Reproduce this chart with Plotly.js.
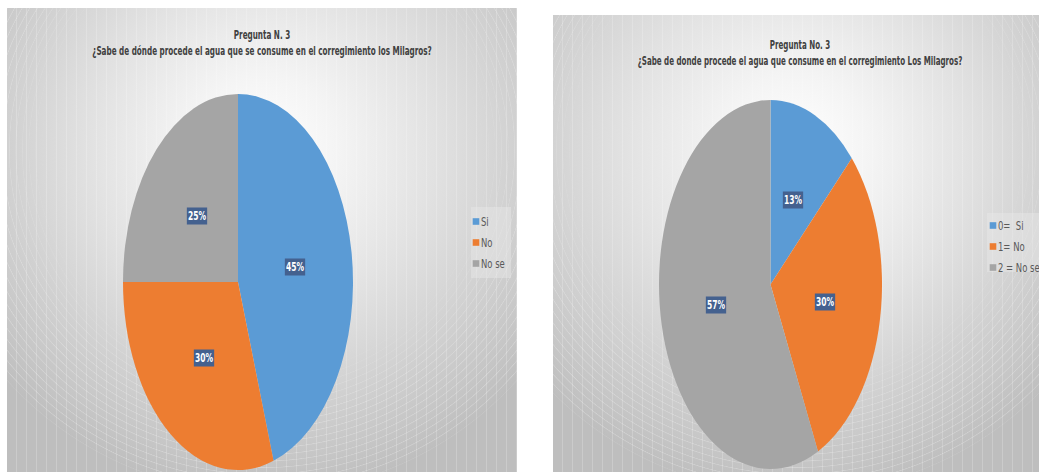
<!DOCTYPE html>
<html><head><meta charset="utf-8">
<script src="https://cdn.plot.ly/plotly-3.0.1.min.js"></script>
<style>
html,body{margin:0;padding:0;background:#fff;width:1039px;height:472px;overflow:hidden}
.panel{position:absolute;overflow:hidden}
.layer{position:absolute;left:0;top:0;width:100%;height:100%}
.legbox{position:absolute;background:rgba(232,232,232,0.45)}
</style></head><body>
<div id="p1" class="panel" style="left:7px;top:8px;width:510px;height:464px">
  <div class="layer bg"></div><div class="layer rings"></div><div class="layer stripes"></div>
  <div class="legbox" style="left:464px;top:199px;width:40px;height:71px"></div>
  <div class="layer" id="c1"></div>
</div>
<div id="p2" class="panel" style="left:553px;top:15px;width:486px;height:457px">
  <div class="layer bg"></div><div class="layer rings"></div><div class="layer stripes"></div>
  <div class="legbox" style="left:434px;top:198px;width:60px;height:59px"></div>
  <div class="layer" id="c2"></div>
</div>
<script>
// ---- data ----
const categories1 = ['Si', 'No', 'No se'];
const values1 = [45, 30, 25];
const title1 = 'Pregunta N. 3<br>¿Sabe de dónde procede el agua que se consume en el corregimiento los Milagros?';

const categories2 = ['0=  Si', '1= No', '2 = No se'];
const values2 = [13, 30, 57];
const title2 = 'Pregunta No. 3<br>¿Sabe de donde procede el agua que consume en el corregimiento Los Milagros?';

const sliceColors = ['#5B9BD5', '#ED7D31', '#A5A5A5'];

// ---- styling ----
const FONT = '"Liberation Sans Narrow", "Arial Narrow", "DejaVu Sans Condensed", sans-serif';

function styleBg(panelId, gx, gy) {
  const p = document.getElementById(panelId);
  const at = `at ${gx}px ${gy}px`;
  p.querySelector('.bg').style.background =
    `radial-gradient(circle 345px ${at}, #ffffff 0%, #f4f4f4 22%, #e3e3e3 48%, #d2d2d2 72%, #c6c6c6 90%, #bebebe 100%)`;
  const r = p.querySelector('.rings');
  r.style.background = `repeating-radial-gradient(circle ${at}, rgba(255,255,255,0) 0px, rgba(255,255,255,0) 5px, rgba(255,255,255,0.25) 5.5px, rgba(255,255,255,0) 6.5px)`;
  const m = `radial-gradient(circle 345px ${at}, transparent 62%, black 78%, black 99%, transparent 100%)`;
  r.style.webkitMaskImage = m; r.style.maskImage = m;
  const s = p.querySelector('.stripes');
  s.style.background = 'repeating-linear-gradient(90deg, rgba(255,255,255,0) 0px, rgba(255,255,255,0) 9px, rgba(255,255,255,0.2) 9px, rgba(255,255,255,0.2) 10px)';
}

// horizontal squeeze of an svg element around its own bbox (emulates a narrow font)
function squeeze(el, k, anchor) {
  const bb = el.getBBox();
  const ax = anchor === 'start' ? bb.x : bb.x + bb.width / 2;
  const prev = el.getAttribute('transform') || '';
  el.setAttribute('transform', `${prev} translate(${ax},0) scale(${k},1) translate(${-ax},0)`);
}

function drawPie(divId, W, H, cats, vals, title, g) {
  const total = vals.reduce((a, b) => a + b, 0);
  const domain = {
    x: [(g.cx - g.rx) / W, (g.cx + g.rx) / W],
    y: [1 - (g.cy + g.rx) / H, 1 - (g.cy - g.rx) / H]
  };
  const annotations = [];
  let cum = 0;
  vals.forEach((v) => {
    const mid = (cum + v / 2) / total * 2 * Math.PI;
    cum += v;
    const px = g.cx + 0.5 * g.rx * Math.sin(mid);
    const py = g.cy - 0.5 * g.ry * Math.cos(mid);
    annotations.push({
      xref: 'paper', yref: 'paper', x: px / W, y: 1 - py / H,
      xanchor: 'center', yanchor: 'middle', showarrow: false,
      text: Math.round(v / total * 100) + '%',
      bgcolor: '#44618f', borderpad: 1,
      font: {family: FONT, size: 12, color: '#ffffff', weight: 'bold'}
    });
  });
  const data = [{
    type: 'pie', labels: cats, values: vals, sort: false, direction: 'clockwise', rotation: 0,
    marker: {colors: sliceColors, line: {width: 0}},
    textinfo: 'none', hoverinfo: 'none', domain: domain
  }];
  const layout = {
    width: W, height: H,
    margin: {l: 0, r: 0, t: 0, b: 0, autoexpand: false},
    paper_bgcolor: 'rgba(0,0,0,0)', plot_bgcolor: 'rgba(0,0,0,0)',
    title: {text: title, x: g.titleX / W, xanchor: 'center', y: 1 - g.titleTop / H, yanchor: 'top', yref: 'container',
            font: {family: FONT, size: 12, color: '#404040', weight: 'bold'}},
    showlegend: true,
    legend: {x: g.legX / W, xanchor: 'left', y: 1 - g.legY / H, yanchor: 'top',
             bgcolor: 'rgba(0,0,0,0)', borderwidth: 0,
             font: {family: FONT, size: 11.5, color: '#595959'}},
    annotations: annotations
  };
  return Plotly.newPlot(divId, data, layout, {staticPlot: true, displayModeBar: false}).then((gd) => {
    const s = g.ry / g.rx;
    gd.querySelectorAll('.pielayer path.surface').forEach((p) => {
      p.setAttribute('transform', `translate(${g.cx},${g.cy}) scale(1,${s}) translate(${-g.cx},${-g.cy})`);
    });
    gd.querySelectorAll('.legend path.legendpie').forEach((p) => {
      p.setAttribute('transform', 'translate(35,0) scale(0.55)');
    });
    gd.querySelectorAll('.legend text.legendtext').forEach((t) => squeeze(t, 0.82, 'start'));
    const items = gd.querySelectorAll('.legend g.traces');
    let y0 = null, x0 = 0;
    items.forEach((it, i) => {
      const m = /translate\(\s*([-\d.]+)[ ,]+([-\d.]+)\s*\)/.exec(it.getAttribute('transform') || '');
      if (m) {
        if (y0 === null) { x0 = +m[1]; y0 = +m[2]; }
        it.setAttribute('transform', `translate(${x0},${y0 + 21 * i})`);
      }
    });
    const t = gd.querySelector('.gtitle');
    if (t) squeeze(t, g.titleW / t.getBBox().width, 'middle');
    gd.querySelectorAll('.annotation-text-g > g').forEach((a) => squeeze(a, 0.7, 'middle'));
  });
}

styleBg('p1', 255, 142);
styleBg('p2', 243, 135);

drawPie('c1', 510, 464, categories1, values1, title1,
  {cx: 231, cy: 274, rx: 115, ry: 188, titleX: 255, titleTop: 31, titleW: 340, legX: 434, legY: 199});
drawPie('c2', 486, 457, categories2, values2, title2,
  {cx: 217.5, cy: 269.5, rx: 111.5, ry: 184.5, titleX: 247, titleTop: 34, titleW: 325, legX: 405, legY: 196});
</script>
</body></html>
